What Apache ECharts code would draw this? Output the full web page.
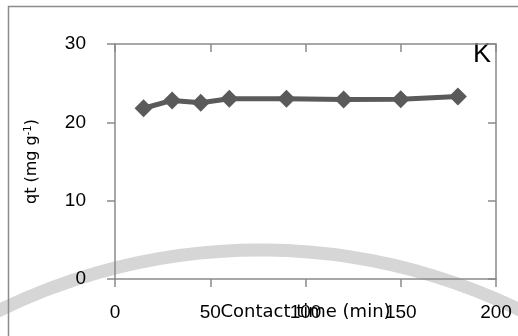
<!DOCTYPE html>
<html><head><meta charset="utf-8">
<script src="https://cdn.jsdelivr.net/npm/echarts@6/dist/echarts.min.js"></script>
<style>html,body{margin:0;padding:0;background:#fff}#c{width:518px;height:336px}</style>
</head><body><div id="c"></div>
<script>
const contactTime = [15, 30, 45, 60, 90, 120, 150, 180];
const qtValues = [21.8, 22.8, 22.5, 23.0, 23.0, 22.9, 22.95, 23.3];
const xTicks = [0, 50, 100, 150, 200];
const yTicks = [0, 10, 20, 30];
const xTitle = 'Contact time (min)';
const panelLabel = 'K';

const chart = echarts.init(document.getElementById('c'), null, {renderer: 'canvas'});
const axisColor = '#8a8a8a';
const baseX = {
  type: 'value', min: xTicks[0], max: xTicks[xTicks.length - 1], interval: 50,
  splitLine: {show: false},
  axisLine: {show: true, onZero: false, lineStyle: {color: axisColor, width: 1.5}}
};
const baseY = {
  type: 'value', min: yTicks[0], max: yTicks[yTicks.length - 1], interval: 10,
  splitLine: {show: false},
  axisLine: {show: true, onZero: false, lineStyle: {color: axisColor, width: 1.5}}
};
chart.setOption({
  animation: false,
  grid: {left: 115, right: 22, top: 44, bottom: 57, containLabel: false, outerBoundsMode: 'none'},
  graphic: [
    {type: 'arc', z: -10, silent: true,
     shape: {cx: 260, cy: 843, r: 593, startAngle: -2.12, endAngle: -1.0, clockwise: true},
     style: {stroke: '#d6d6d6', lineWidth: 13, fill: null}},
    {type: 'rect', z: -5, silent: true,
     shape: {x: 8.5, y: 6.5, width: 700, height: 500},
     style: {stroke: '#8c8c8c', lineWidth: 1.5, fill: null}},
    {type: 'text', left: 473, top: 41,
     style: {text: panelLabel, font: '27px "Liberation Sans", Arial, sans-serif', fill: '#000'}}
  ],
  xAxis: [
    Object.assign({}, baseX, {
      axisTick: {show: true, inside: false, length: 8, lineStyle: {color: axisColor, width: 1.5}},
      axisLabel: {show: true, margin: 24, color: '#000', fontSize: 19, fontFamily: '"Liberation Sans", Arial, sans-serif'},
      name: xTitle, nameLocation: 'middle', nameGap: 24, nameMoveOverlap: false,
      nameTextStyle: {color: '#000', fontSize: 18, fontFamily: '"DejaVu Sans", sans-serif'}
    }),
    Object.assign({}, baseX, {
      axisTick: {show: true, inside: true, length: 8, lineStyle: {color: axisColor, width: 1.5}},
      axisLabel: {show: false}
    })
  ],
  yAxis: [
    Object.assign({}, baseY, {
      axisTick: {show: true, inside: false, length: 8, lineStyle: {color: axisColor, width: 1.5}},
      axisLabel: {show: true, margin: 29, color: '#000', fontSize: 19, fontFamily: '"Liberation Sans", Arial, sans-serif'},
      name: 'qt (mg g{sup|-1})', nameLocation: 'middle', nameGap: 74, nameMoveOverlap: false,
      nameTextStyle: {color: '#000', fontSize: 16, fontFamily: '"DejaVu Sans", sans-serif',
        rich: {sup: {fontSize: 10, verticalAlign: 'top', padding: [0, 0, 8, 0], fontFamily: '"DejaVu Sans", sans-serif', color: '#000'}}}
    }),
    Object.assign({}, baseY, {
      axisTick: {show: true, inside: true, length: 8, lineStyle: {color: axisColor, width: 1.5}},
      axisLabel: {show: false}
    })
  ],
  series: [{
    type: 'line', xAxisIndex: 0, yAxisIndex: 0,
    data: contactTime.map((t, i) => [t, qtValues[i]]),
    symbol: 'diamond', symbolSize: 18,
    lineStyle: {color: '#5a5a5a', width: 5},
    itemStyle: {color: '#5a5a5a'}
  }]
});
</script></body></html>
